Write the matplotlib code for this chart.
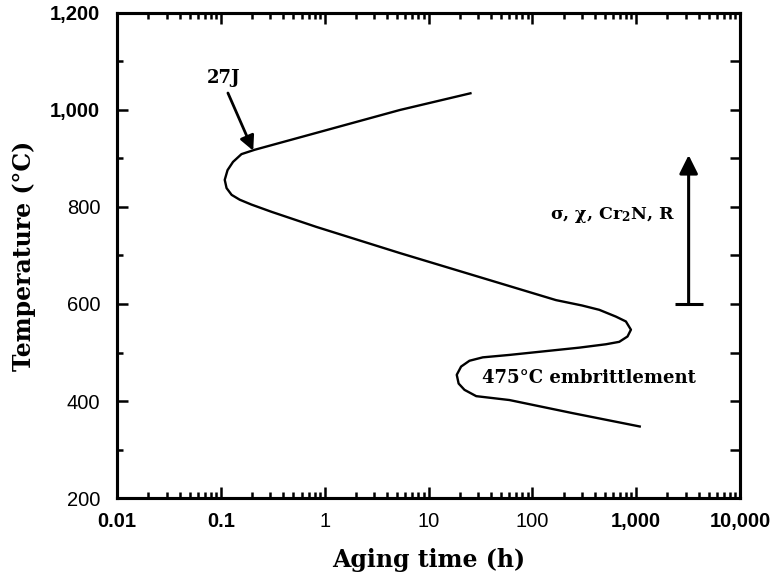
import matplotlib
matplotlib.use("Agg")
import matplotlib.pyplot as plt

plt.rcParams["mathtext.fontset"] = "custom"
plt.rcParams["mathtext.rm"] = "DejaVu Serif:bold"
plt.rcParams["mathtext.it"] = "DejaVu Serif:bold"

# curve: aging time (h), temperature (C)
aging_time = [26, 5.3, 0.212, 0.158, 0.131, 0.116, 0.109, 0.1135, 0.127, 0.152,
              0.197, 0.308, 0.83, 5.3, 169, 300, 441, 638, 796, 890, 825,
              687, 512, 283, 60.1, 33.3, 24.8, 20.6, 18.7, 19.5, 22.2,
              28.8, 60.1, 244, 1110]
temperature = [1035, 1000, 918, 909, 893, 876, 856, 839, 825, 815,
               805, 790, 759, 705, 608, 597, 588, 574, 564, 547, 533,
               522, 517, 510, 495, 490, 483, 471, 454, 436, 423,
               410, 402, 375, 347]

x_ticks = [0.01, 0.1, 1, 10, 100, 1000, 10000]
x_labels = ["0.01", "0.1", "1", "10", "100", "1,000", "10,000"]
x_bold = [True, True, False, False, False, True, True]
y_ticks = [200, 400, 600, 800, 1000, 1200]
y_labels = ["200", "400", "600", "800", "1,000", "1,200"]
y_bold = [False, False, False, False, True, True]

# 27J arrow (tail, head) and label
arrow_27j = ((0.117, 1035), (0.205, 916))
label_27j = (0.107, 1066)
# phases arrow
phase_x = 3200
phase_range = (600, 907)
phase_text = (590, 783)
embrit_text = (33, 447)

fig = plt.figure(figsize=(7.77, 5.77), dpi=100)
ax = fig.add_axes([0.1506, 0.1369, 0.8018, 0.8406])

ax.plot(aging_time, temperature, color="black", lw=1.7,
        solid_joinstyle="round", solid_capstyle="butt")

ax.set_xscale("log")
ax.set_xlim(0.01, 10000)
ax.set_ylim(200, 1200)

ax.set_xticks(x_ticks, x_labels)
ax.set_yticks(y_ticks, y_labels)
ax.set_yticks(range(300, 1200, 200), minor=True)

for lab, b in zip(ax.get_xticklabels(), x_bold):
    lab.set_fontweight("bold" if b else "normal")
for lab, b in zip(ax.get_yticklabels(), y_bold):
    lab.set_fontweight("bold" if b else "normal")
for lab in ax.get_xticklabels() + ax.get_yticklabels():
    lab.set_fontfamily("Liberation Sans")
    lab.set_fontsize(14.5)

ax.tick_params(axis="x", which="both", direction="in", top=True, width=1.8, pad=10)
ax.tick_params(axis="x", which="major", length=8)
ax.tick_params(axis="x", which="minor", length=4)
ax.tick_params(axis="y", which="both", direction="in", right=False, width=1.8, pad=12)
ax.tick_params(axis="y", which="major", length=8)
ax.tick_params(axis="y", which="minor", length=4)

ax2 = ax.twinx()
ax2.set_ylim(200, 1200)
ax2.set_yticks(range(300, 1200, 100))
ax2.tick_params(axis="y", direction="in", length=7, width=1.8, labelright=False)

for a in (ax, ax2):
    for s in a.spines.values():
        s.set_linewidth(2.2)

ax.set_xlabel("Aging time (h)", family="DejaVu Serif", fontweight="bold",
              fontsize=17, labelpad=12)
ax.set_ylabel("Temperature (°C)", family="DejaVu Serif", fontweight="bold",
              fontsize=17, labelpad=10)

ax.annotate("", xy=arrow_27j[1], xytext=arrow_27j[0],
            arrowprops=dict(arrowstyle="-|>", color="black", lw=2,
                            mutation_scale=22, shrinkA=0, shrinkB=0))
ax.text(*label_27j, "27J", family="DejaVu Serif", fontweight="bold",
        fontsize=13, ha="center", va="center")

ax.annotate("", xy=(phase_x, phase_range[1]), xytext=(phase_x, phase_range[0]),
            arrowprops=dict(arrowstyle="-|>", color="black", lw=2.2,
                            mutation_scale=28, shrinkA=0, shrinkB=0))
ax.plot([phase_x], [phase_range[0]], marker="_", color="black",
        markersize=20, mew=2.2)
ax.text(*phase_text, "σ, χ, Cr$_2$N, R", family="DejaVu Serif",
        fontweight="bold", fontsize=12.5, ha="center", va="center")

ax.text(*embrit_text, "475°C embrittlement", family="DejaVu Serif",
        fontweight="bold", fontsize=13, ha="left", va="center")

fig.savefig("out.png", dpi=100)
